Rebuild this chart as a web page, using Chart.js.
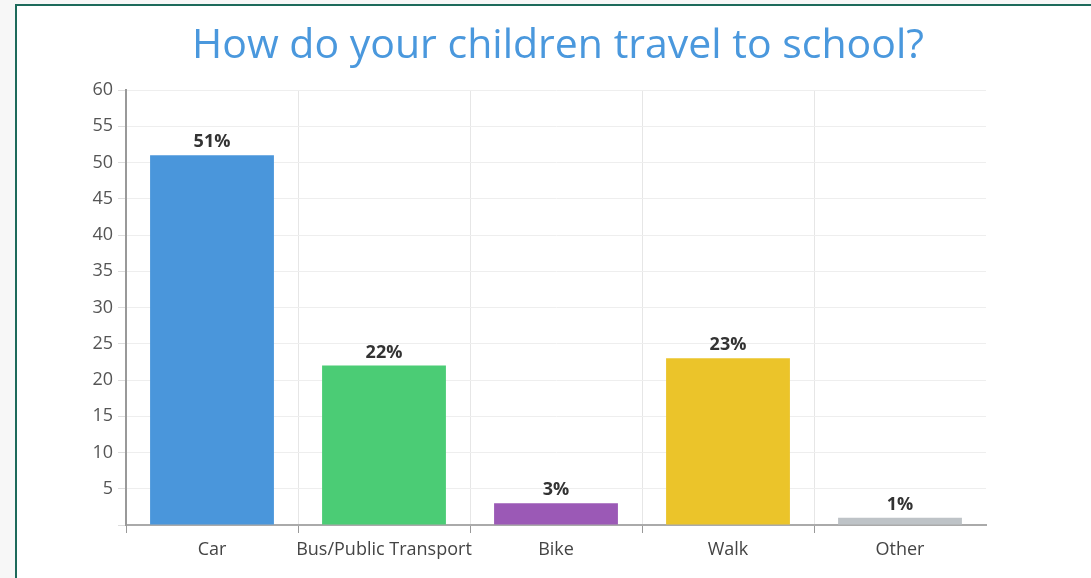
<!DOCTYPE html>
<html>
<head>
<meta charset="utf-8">
<script src="https://cdn.jsdelivr.net/npm/chart.js@4.4.1/dist/chart.umd.min.js"></script>
<style>
  html, body { margin: 0; padding: 0; background: #f7f7f7; overflow: hidden; }
  #frame {
    position: absolute; left: 15px; top: 4px; width: 1100px; height: 600px;
    border-left: 2px solid #1d6a5b; border-top: 2px solid #1d6a5b; background: #fff;
  }
  #wrap { position: absolute; left: 0; top: 0; width: 1091px; height: 578px; }
</style>
</head>
<body>
<div id="frame"></div>
<div id="wrap"><canvas id="myGraph"></canvas></div>
<script>
const chartTitle = "How do your children travel to school?";
const categories = ["Car", "Bus/Public Transport", "Bike", "Walk", "Other"];
const percentages = [51, 22, 3, 23, 1];
const barColors = ["#4a96db", "#4bcc75", "#9b59b6", "#ebc42a", "#bec3c7"];
const yTicks = [0, 5, 10, 15, 20, 25, 30, 35, 40, 45, 50, 55, 60];

// title is centred on the page, not on the plot, so draw it here
const pageTitle = {
  id: "pageTitle",
  afterDraw(chart) {
    const ctx = chart.ctx;
    ctx.save();
    ctx.font = "41px 'Open Sans'";
    ctx.fillStyle = "#4a98dd";
    ctx.textAlign = "center";
    ctx.textBaseline = "alphabetic";
    ctx.fillText(chartTitle, 558, 58);
    ctx.restore();
  },
};

// the "51%" labels above each bar
const valueLabels = {
  id: "valueLabels",
  afterDatasetsDraw(chart) {
    const ctx = chart.ctx;
    const meta = chart.getDatasetMeta(0);
    ctx.save();
    ctx.font = "bold 18px 'Open Sans'";
    ctx.fillStyle = "#333";
    ctx.textAlign = "center";
    ctx.textBaseline = "alphabetic";
    meta.data.forEach((bar, i) => {
      ctx.fillText(percentages[i] + "%", bar.x, bar.y - 8);
    });
    ctx.restore();
  },
};

// no line at the right end of the category axis
const hideLast = (col) => (c) => (c.tick ? col : "rgba(0,0,0,0)");

new Chart(document.getElementById("myGraph"), {
  type: "bar",
  data: {
    labels: categories,
    datasets: [
      {
        data: percentages,
        backgroundColor: barColors,
        borderWidth: 0,
        barPercentage: 0.72,
        categoryPercentage: 1,
      },
    ],
  },
  options: {
    responsive: true,
    maintainAspectRatio: false,
    animation: false,
    layout: { padding: { left: 0, right: 105, top: 90, bottom: 0 } },
    plugins: {
      legend: { display: false },
      tooltip: { enabled: false },
      title: { display: false },
    },
    scales: {
      x: {
        grid: {
          offset: true,
          color: hideLast("#e6e6e6"),
          tickColor: hideLast("#999"),
          tickLength: 8,
        },
        border: { color: "#aaa", width: 2 },
        ticks: {
          color: "#444",
          font: { family: "'Open Sans'", size: 18 },
          padding: 6,
          maxRotation: 0,
          minRotation: 0,
          autoSkip: false,
        },
        afterFit(scale) { scale.height = 53; },
      },
      y: {
        min: yTicks[0],
        max: yTicks[yTicks.length - 1],
        afterBuildTicks(scale) { scale.ticks = yTicks.map((v) => ({ value: v })); },
        grid: { color: "#eeeeee", tickLength: 8, tickColor: "#ddd" },
        border: { color: "#999", width: 2 },
        ticks: {
          color: "#555",
          font: { family: "'Open Sans'", size: 18 },
          padding: 5,
          callback: (v) => (v === 0 ? "" : v),
        },
        afterFit(scale) { scale.width = 126; },
      },
    },
  },
  plugins: [valueLabels, pageTitle],
});
</script>
</body>
</html>
